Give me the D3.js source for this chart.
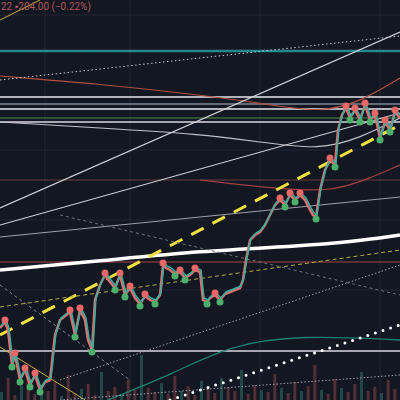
<!DOCTYPE html>
<html><head><meta charset="utf-8">
<script src="https://cdn.jsdelivr.net/npm/d3@7"></script>
<style>body{margin:0;background:#131722}svg{display:block}</style>
</head><body><svg id="c" width="400" height="400"></svg>
<script>
// price path: [bar index, price]
const priceX = [0,5,8,12,15,20,25,30,35,40,45,50,55,60,65,70,75,80,85,88,92,95,100,105,110,115,120,125,130,135,140,145,150,155,160,163,166,170,175,180,185,190,195,200,203,207,210,215,220,225,230,235,240,243,246,250,255,260,265,270,275,280,285,290,295,300,305,310,313,316,320,325,330,335,338,342,346,350,355,360,365,370,375,380,385,390,395,400];
const priceY = [72,78,70,35,45,20,30,15,25,10,18,20,65,80,84,88,65,90,80,60,50,100,115,125,118,112,125,105,112,102,96,104,100,98,105,135,132,130,126,128,122,125,130,128,100,98,102,105,100,106,108,110,112,120,140,160,165,168,175,185,195,200,195,205,200,205,200,190,185,183,210,230,240,235,270,285,292,282,290,280,295,280,285,262,278,270,288,282];
const volume = [8,22,5,14,30,6,12,9,18,4,25,7,11,16,5,28,9,13,6,20,10,45,12,8,17,6,24,9,14,5,19,11,7,22,13,9,30,6,15,10,8,26,12,7,18,9,14,35,10,6,21,12,8,16,28,9,13,7,20,11];
const hLines = [
  {p:349,c:"#1d8d8d",w:2.5},{p:350,c:"#7a3a3a",w:0.7,d:"1,2"},{p:303,c:"#e8e8ee",w:1.5},{p:296,c:"#b8bcc8",w:1.2},
  {p:291,c:"#e8e8ee",w:1.5},{p:282,c:"#4f8a4f",w:1.2},{p:278,c:"#d8d8e0",w:1.3},{p:220,c:"#6a3d3d",w:1},
  {p:138,c:"#a04545",w:1.2},{p:49,c:"#d8d8e0",w:1.3}];
const slopes = [
  {x:[0,400],p:[192,368],c:"#d0d0d8",w:1.2},
  {x:[0,400],p:[175,287],c:"#d0d0d8",w:1.2},
  {x:[0,400],p:[163,203],c:"#a0a0a8",w:1},
  {x:[0,400],p:[320,364],c:"#c8c8d0",w:1,d:"1.5,2.5"},
  {x:[0,400],p:[65,275],c:"#f0e040",w:3,d:"14,10"},
  {x:[0,400],p:[93,150],c:"#b0b040",w:1,d:"4,3"},
  {x:[0,130],p:[115,20],c:"#888890",w:1,d:"3,3"},
  {x:[60,400],p:[185,105],c:"#707078",w:1,d:"3,3"},
  {x:[0,85],p:[53,0],c:"#c8b040",w:1},
  {x:[0,40],p:[380,400],c:"#c8b040",w:1},
  {x:[60,400],p:[20,135],c:"#a0a0a8",w:1,d:"1.5,2"},
  {x:[60,400],p:[0,25],c:"#a0a0a8",w:1,d:"1.5,2"},
  {x:[170,400],p:[0,75],c:"#ffffff",w:3,d:"0,8",cap:"round"}];
const curves = [
  {x:[0,100,200,260,320,360,400],p:[324,316,305,297,287,298,322],c:"#b05040",w:1.2},
  {x:[0,100,200,260,320,360,400],p:[278,272,266,258,250,262,282],c:"#c0c0c8",w:1.2},
  {x:[200,260,330,370,400],p:[220,213,207,222,235],c:"#a04040",w:1.2},
  {x:[0,100,200,300,350,400],p:[130,139,149,154,158,165],c:"#ffffff",w:3.5},
  {x:[60,120,170,230,300,400],p:[-20,5,25,55,65,60],c:"#1d8070",w:1.3}];

const svg = d3.select("#c");
const x = d3.scaleLinear().domain([0,400]).range([0,400]);
const y = d3.scaleLinear().domain([0,400]).range([400,0]);

// grid
svg.append("g").selectAll("line").data([45,130,260,380]).join("line")
  .attr("x1",d=>x(d)).attr("x2",d=>x(d)).attr("y1",0).attr("y2",400).attr("stroke","#222634");
svg.append("g").selectAll("line").data([385,250,180,110]).join("line")
  .attr("y1",d=>y(d)).attr("y2",d=>y(d)).attr("x1",0).attr("x2",400).attr("stroke","#222634");

// volume
svg.append("g").selectAll("rect").data(volume).join("rect")
  .attr("x",(d,i)=>x(i*400/volume.length)).attr("width",3)
  .attr("y",d=>400-d).attr("height",d=>d)
  .attr("fill",(d,i)=>i%3?"rgba(200,90,90,0.35)":"rgba(60,160,140,0.35)");

svg.append("g").selectAll("line").data(hLines).join("line")
  .attr("x1",0).attr("x2",400).attr("y1",d=>y(d.p)).attr("y2",d=>y(d.p))
  .attr("stroke",d=>d.c).attr("stroke-width",d=>d.w).attr("stroke-dasharray",d=>d.d||null);

const line = d3.line().x(d=>x(d[0])).y(d=>y(d[1]));
const curve = d3.line().x(d=>x(d[0])).y(d=>y(d[1])).curve(d3.curveBasis);
curves.forEach(c=>svg.append("path").attr("d",curve(c.x.map((v,i)=>[v,c.p[i]])))
  .attr("fill","none").attr("stroke",c.c).attr("stroke-width",c.w));
slopes.forEach(s=>svg.append("path").attr("d",line(s.x.map((v,i)=>[v,s.p[i]])))
  .attr("fill","none").attr("stroke",s.c).attr("stroke-width",s.w)
  .attr("stroke-dasharray",s.d||null).attr("stroke-linecap",s.cap||"butt"));

// price
const pts = priceX.map((v,i)=>[v,priceY[i]]);
svg.append("path").attr("d",line(pts)).attr("fill","none").attr("stroke","#e07070").attr("stroke-width",2.5);
svg.append("path").attr("d",line(pts.map(d=>[d[0]+1,d[1]+2]))).attr("fill","none").attr("stroke","#30b0a0").attr("stroke-width",1.5);
// pivot markers at local highs / lows
const peaks = pts.filter((d,i)=>i>0&&i<pts.length-1&&d[1]>pts[i-1][1]&&d[1]>pts[i+1][1]);
const troughs = pts.filter((d,i)=>i>0&&i<pts.length-1&&d[1]<pts[i-1][1]&&d[1]<pts[i+1][1]);
svg.append("g").selectAll("circle").data(peaks).join("circle")
  .attr("cx",d=>x(d[0])).attr("cy",d=>y(d[1])-2).attr("r",3.5).attr("fill","#e86868");
svg.append("g").selectAll("circle").data(troughs).join("circle")
  .attr("cx",d=>x(d[0])).attr("cy",d=>y(d[1])+2).attr("r",3.5).attr("fill","#4caf6a");

svg.append("text").attr("x",1).attr("y",10).attr("font-family","Roboto").attr("font-size",10)
  .attr("fill","#b05858").text("22 ▪204.00 (−0.22%)");
</script></body></html>
